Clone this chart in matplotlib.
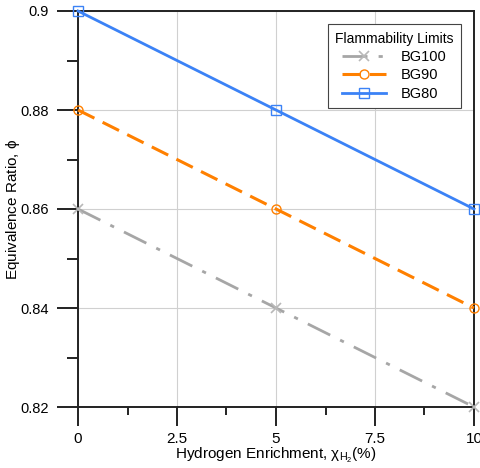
"""Flammability limits vs hydrogen enrichment."""

import matplotlib.pyplot as plt
from matplotlib.ticker import MultipleLocator

plt.rcParams["font.family"] = ["Liberation Sans", "DejaVu Sans"]
plt.rcParams["mathtext.fontset"] = "custom"
plt.rcParams["mathtext.rm"] = "Liberation Sans"

h2_enrichment = [0, 5, 10]
bg100 = [0.86, 0.84, 0.82]
bg90 = [0.88, 0.86, 0.84]
bg80 = [0.90, 0.88, 0.86]

x_ticks = [0, 2.5, 5, 7.5, 10]
x_tick_labels = ["0", "2.5", "5", "7.5", "10"]
y_ticks = [0.82, 0.84, 0.86, 0.88, 0.90]
y_tick_labels = ["0.82", "0.84", "0.86", "0.88", "0.9"]

fig = plt.figure(figsize=(4.81, 4.68), dpi=100)
ax = fig.add_axes([78 / 481, 61 / 468, 396 / 481, 396 / 468])

ax.plot(h2_enrichment, bg100, color="#a6a6a6", linestyle=(0, (9, 4, 1.5, 4)),
        linewidth=2, marker="x", markersize=7, markeredgewidth=1.2,
        markeredgecolor="#b8b8b8", label="BG100", clip_on=False, zorder=3)
ax.plot(h2_enrichment, bg90, color="#ff8000", linestyle=(0, (6, 3)),
        linewidth=2.2, marker="o", markersize=6.5, markerfacecolor="none",
        markeredgewidth=1, label="BG90", clip_on=False, zorder=3)
ax.plot(h2_enrichment, bg80, color="#3b82f6", linestyle="-",
        linewidth=2, marker="s", markersize=6.5, markerfacecolor="none",
        markeredgewidth=1, label="BG80", clip_on=False, zorder=3)

ax.set_xlim(0, 10)
ax.set_ylim(0.82, 0.90)
ax.set_xticks(x_ticks)
ax.set_xticklabels(x_tick_labels, fontsize=11)
ax.set_yticks(y_ticks)
ax.set_yticklabels(y_tick_labels, fontsize=10.5)
ax.xaxis.set_minor_locator(MultipleLocator(1.25))
ax.yaxis.set_minor_locator(MultipleLocator(0.01))

ax.grid(True, which="major", color="#d0d0d0", linewidth=0.8)
ax.set_axisbelow(True)
ax.tick_params(which="both", width=1.3, color="#111111")
ax.tick_params(axis="x", which="major", length=14, pad=4)
ax.tick_params(axis="x", which="minor", length=6)
ax.tick_params(axis="y", which="major", length=15, pad=6)
ax.tick_params(axis="y", which="minor", length=8)
for side in ["left", "bottom", "top", "right"]:
    ax.spines[side].set_linewidth(1.4)
    ax.spines[side].set_color("#222222")

ax.set_xlabel(r"Hydrogen Enrichment, $\mathregular{\chi_{H_2}}$(%)",
              fontsize=11, labelpad=0)
ax.set_ylabel(r"Equivalence Ratio, $\mathregular{\phi}$", fontsize=11)
ax.yaxis.set_label_coords(-0.142, 0.5)

leg = ax.legend(title="Flammability Limits", loc="upper right",
                bbox_to_anchor=(0.985, 0.985), fontsize=10.5, title_fontsize=10,
                fancybox=False, edgecolor="#444444", framealpha=1,
                handlelength=3, borderpad=0.5, labelspacing=0.3,
                handletextpad=1.0)
leg.get_frame().set_linewidth(0.8)

fig.savefig("out.png", dpi=100)
